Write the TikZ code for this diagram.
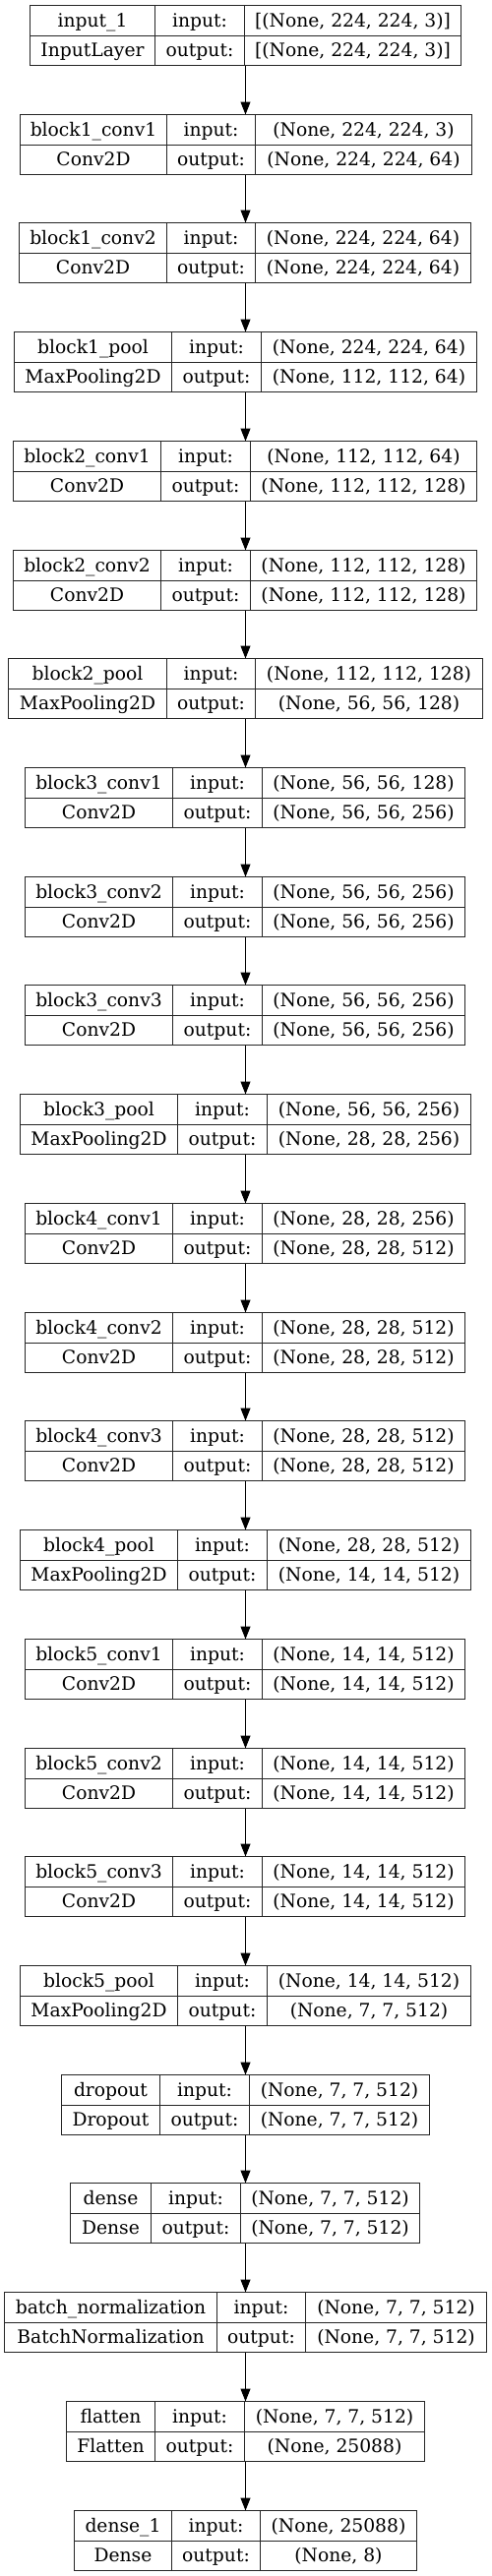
\documentclass[tikz,border=0pt]{standalone}
\usepackage{fontspec}
\setmainfont{DejaVu Serif}
\usetikzlibrary{arrows.meta}
\tikzset{
  layerframe/.style={draw=black!85, line width=1pt, inner sep=0pt, outer sep=0pt},
  divline/.style={draw=black!85, line width=1pt},
  celltext/.style={anchor=base, inner sep=0pt, font=\fontsize{18.7}{23}\selectfont},
  arr/.style={draw=black, line width=1pt, -{Triangle[length=13pt,width=10pt]}}
}
\newcommand\layerbox[9]{%
  \pgfmathsetmacro\lbT{round(5+110.72*#1)+0.5}%
  \pgfmathsetmacro\lbM{\lbT+30.5}%
  \pgfmathsetmacro\lbB{\lbT+61}%
  \pgfmathsetmacro\lbL{floor(#2+0.2)+0.5}%
  \pgfmathsetmacro\lbP{floor(#3+0.2)+0.5}%
  \pgfmathsetmacro\lbQ{floor(#4+0.2)+0.5}%
  \pgfmathsetmacro\lbR{floor(#5+0.2)+0.5}%
  \pgfmathsetmacro\lbW{\lbR-\lbL}%
  \node[layerframe, minimum width=\lbW pt, minimum height=61pt] (b#1) at ({(\lbL+\lbR)/2},{\lbT+30.5}) {};
  \draw[divline] (\lbP,\lbT) -- (\lbP,\lbB);
  \draw[divline] (\lbQ,\lbT) -- (\lbQ,\lbB);
  \draw[divline] (\lbL,\lbM) -- (\lbR,\lbM);
  \node[celltext] (b#1n) at ({(\lbL+\lbP)/2},{\lbT+21.5}) {#6};
  \node[celltext] (b#1t) at ({(\lbL+\lbP)/2},{\lbM+21.5}) {#7};
  \node[celltext] (b#1i) at ({(\lbP+\lbQ)/2},{\lbT+21.5}) {input:};
  \node[celltext] (b#1o) at ({(\lbP+\lbQ)/2},{\lbM+21.5}) {output:};
  \node[celltext] (b#1a) at ({(\lbQ+\lbR)/2},{\lbT+21.5}) {#8};
  \node[celltext] (b#1b) at ({(\lbQ+\lbR)/2},{\lbM+21.5}) {#9};
}
\begin{document}
\begin{tikzpicture}[x=1pt,y=-1pt]
\fill[white] (0,0) rectangle (499,2619);
\useasboundingbox (0,0) rectangle (499,2619);
\coordinate (ax) at (249.5,0);
\layerbox{0}{30.3}{157}{248.3}{468.3}{input\_1}{InputLayer}{[(None, 224, 224, 3)]}{[(None, 224, 224, 3)]}
\layerbox{1}{20}{169.3}{259.7}{479}{block1\_conv1}{Conv2D}{(None, 224, 224, 3)}{(None, 224, 224, 64)}
\layerbox{2}{19.7}{169.3}{259.7}{478.7}{block1\_conv2}{Conv2D}{(None, 224, 224, 64)}{(None, 224, 224, 64)}
\layerbox{3}{14.3}{174.7}{265.3}{484}{block1\_pool}{MaxPooling2D}{(None, 224, 224, 64)}{(None, 112, 112, 64)}
\layerbox{4}{13.7}{163.3}{254}{484.7}{block2\_conv1}{Conv2D}{(None, 112, 112, 64)}{(None, 112, 112, 128)}
\layerbox{5}{13.7}{163.3}{254}{484.7}{block2\_conv2}{Conv2D}{(None, 112, 112, 128)}{(None, 112, 112, 128)}
\layerbox{6}{8.3}{169}{259.3}{490.3}{block2\_pool}{MaxPooling2D}{(None, 112, 112, 128)}{(None, 56, 56, 128)}
\layerbox{7}{25.7}{175.3}{266}{472.7}{block3\_conv1}{Conv2D}{(None, 56, 56, 128)}{(None, 56, 56, 256)}
\layerbox{8}{25.7}{175.3}{266}{472.7}{block3\_conv2}{Conv2D}{(None, 56, 56, 256)}{(None, 56, 56, 256)}
\layerbox{9}{25.7}{175.3}{266}{472.7}{block3\_conv3}{Conv2D}{(None, 56, 56, 256)}{(None, 56, 56, 256)}
\layerbox{10}{20.7}{180.7}{271.3}{478.3}{block3\_pool}{MaxPooling2D}{(None, 56, 56, 256)}{(None, 28, 28, 256)}
\layerbox{11}{25.7}{175.3}{266}{472.7}{block4\_conv1}{Conv2D}{(None, 28, 28, 256)}{(None, 28, 28, 512)}
\layerbox{12}{25.7}{175.3}{266}{472.7}{block4\_conv2}{Conv2D}{(None, 28, 28, 512)}{(None, 28, 28, 512)}
\layerbox{13}{25.7}{175.3}{266}{472.7}{block4\_conv3}{Conv2D}{(None, 28, 28, 512)}{(None, 28, 28, 512)}
\layerbox{14}{20.7}{180.7}{271.3}{478.3}{block4\_pool}{MaxPooling2D}{(None, 28, 28, 512)}{(None, 14, 14, 512)}
\layerbox{15}{25.7}{175.3}{266}{472.7}{block5\_conv1}{Conv2D}{(None, 14, 14, 512)}{(None, 14, 14, 512)}
\layerbox{16}{25.7}{175.3}{266}{472.7}{block5\_conv2}{Conv2D}{(None, 14, 14, 512)}{(None, 14, 14, 512)}
\layerbox{17}{25.7}{175.3}{266}{472.7}{block5\_conv3}{Conv2D}{(None, 14, 14, 512)}{(None, 14, 14, 512)}
\layerbox{18}{20.7}{180.3}{271}{478.3}{block5\_pool}{MaxPooling2D}{(None, 14, 14, 512)}{(None, 7, 7, 512)}
\layerbox{19}{62.3}{162.7}{253.3}{436}{dropout}{Dropout}{(None, 7, 7, 512)}{(None, 7, 7, 512)}
\layerbox{20}{71.7}{153}{244}{426.7}{dense}{Dense}{(None, 7, 7, 512)}{(None, 7, 7, 512)}
\layerbox{21}{4.7}{220.7}{310.7}{494.7}{batch\_normalization}{BatchNormalization}{(None, 7, 7, 512)}{(None, 7, 7, 512)}
\layerbox{22}{67}{157.7}{248.7}{431.3}{flatten}{Flatten}{(None, 7, 7, 512)}{(None, 25088)}
\layerbox{23}{75}{174}{264.3}{423.3}{dense\_1}{Dense}{(None, 25088)}{(None, 8)}
\foreach \i [evaluate=\i as \j using int(\i+1)] in {0,...,22}
  \draw[arr] (b\i.south -| ax) -- (b\j.north -| ax);
\end{tikzpicture}
\end{document}
